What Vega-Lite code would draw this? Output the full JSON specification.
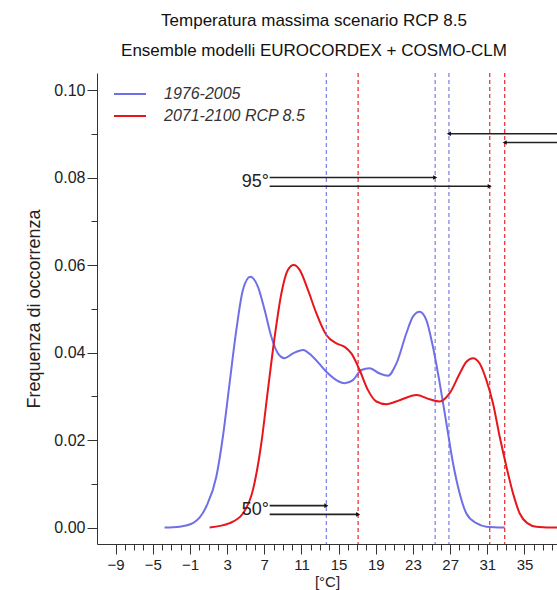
{
  "$schema": "https://vega.github.io/schema/vega-lite/v6.json",
  "width": 460,
  "height": 471,
  "autosize": {"type": "none"},
  "padding": {"left": 97, "top": 73, "right": 0, "bottom": 46},
  "background": "white",
  "title": {
    "text": ["Temperatura massima scenario RCP 8.5", "Ensemble modelli EUROCORDEX + COSMO-CLM"],
    "fontSize": 17,
    "fontWeight": "normal",
    "lineHeight": 30,
    "offset": 12,
    "dx": -13,
    "anchor": "middle",
    "color": "#111"
  },
  "config": {
    "font": "Liberation Sans",
    "view": {"stroke": null},
    "axis": {"grid": false, "domainColor": "#333", "tickColor": "#333", "labelColor": "#222", "titleColor": "#222", "domainWidth": 1, "tickWidth": 1}
  },
  "datasets": {
    "curves": [
      {"series": "1976-2005", "T": -3.73, "freq": 0.0},
      {"series": "1976-2005", "T": -2.11, "freq": 0.0002},
      {"series": "1976-2005", "T": -0.68, "freq": 0.001},
      {"series": "1976-2005", "T": 0.76, "freq": 0.0048},
      {"series": "1976-2005", "T": 1.84, "freq": 0.0116},
      {"series": "1976-2005", "T": 2.55, "freq": 0.0208},
      {"series": "1976-2005", "T": 3.27, "freq": 0.033},
      {"series": "1976-2005", "T": 3.99, "freq": 0.0451},
      {"series": "1976-2005", "T": 4.7, "freq": 0.0543},
      {"series": "1976-2005", "T": 5.5, "freq": 0.0573},
      {"series": "1976-2005", "T": 6.32, "freq": 0.055},
      {"series": "1976-2005", "T": 7.04, "freq": 0.0497},
      {"series": "1976-2005", "T": 7.76, "freq": 0.0436},
      {"series": "1976-2005", "T": 8.47, "freq": 0.0398},
      {"series": "1976-2005", "T": 9.19, "freq": 0.0387},
      {"series": "1976-2005", "T": 10.09, "freq": 0.0398},
      {"series": "1976-2005", "T": 11.16, "freq": 0.0406},
      {"series": "1976-2005", "T": 12.24, "freq": 0.039},
      {"series": "1976-2005", "T": 13.68, "freq": 0.0356},
      {"series": "1976-2005", "T": 14.76, "freq": 0.0337},
      {"series": "1976-2005", "T": 15.65, "freq": 0.033},
      {"series": "1976-2005", "T": 16.54, "freq": 0.0337},
      {"series": "1976-2005", "T": 17.45, "freq": 0.036},
      {"series": "1976-2005", "T": 18.34, "freq": 0.0364},
      {"series": "1976-2005", "T": 19.42, "freq": 0.0352},
      {"series": "1976-2005", "T": 20.31, "freq": 0.0347},
      {"series": "1976-2005", "T": 21.22, "freq": 0.0375},
      {"series": "1976-2005", "T": 22.29, "freq": 0.0444},
      {"series": "1976-2005", "T": 23.0, "freq": 0.0482},
      {"series": "1976-2005", "T": 23.72, "freq": 0.0493},
      {"series": "1976-2005", "T": 24.44, "freq": 0.0474},
      {"series": "1976-2005", "T": 25.15, "freq": 0.0413},
      {"series": "1976-2005", "T": 25.88, "freq": 0.033},
      {"series": "1976-2005", "T": 26.6, "freq": 0.0238},
      {"series": "1976-2005", "T": 27.31, "freq": 0.0147},
      {"series": "1976-2005", "T": 28.03, "freq": 0.0078},
      {"series": "1976-2005", "T": 28.75, "freq": 0.0032},
      {"series": "1976-2005", "T": 29.83, "freq": 0.001},
      {"series": "1976-2005", "T": 30.9, "freq": 0.0002},
      {"series": "1976-2005", "T": 32.87, "freq": 0.0},
      {"series": "2071-2100 RCP 8.5", "T": 1.12, "freq": 0.0},
      {"series": "2071-2100 RCP 8.5", "T": 3.27, "freq": 0.001},
      {"series": "2071-2100 RCP 8.5", "T": 4.7, "freq": 0.0032},
      {"series": "2071-2100 RCP 8.5", "T": 5.78, "freq": 0.0086},
      {"series": "2071-2100 RCP 8.5", "T": 6.68, "freq": 0.0192},
      {"series": "2071-2100 RCP 8.5", "T": 7.39, "freq": 0.0314},
      {"series": "2071-2100 RCP 8.5", "T": 8.12, "freq": 0.0436},
      {"series": "2071-2100 RCP 8.5", "T": 8.84, "freq": 0.0535},
      {"series": "2071-2100 RCP 8.5", "T": 9.55, "freq": 0.0589},
      {"series": "2071-2100 RCP 8.5", "T": 10.16, "freq": 0.06},
      {"series": "2071-2100 RCP 8.5", "T": 10.81, "freq": 0.0589},
      {"series": "2071-2100 RCP 8.5", "T": 11.7, "freq": 0.0543},
      {"series": "2071-2100 RCP 8.5", "T": 12.6, "freq": 0.049},
      {"series": "2071-2100 RCP 8.5", "T": 13.68, "freq": 0.044},
      {"series": "2071-2100 RCP 8.5", "T": 14.76, "freq": 0.0421},
      {"series": "2071-2100 RCP 8.5", "T": 15.65, "freq": 0.0413},
      {"series": "2071-2100 RCP 8.5", "T": 16.37, "freq": 0.0398},
      {"series": "2071-2100 RCP 8.5", "T": 17.26, "freq": 0.036},
      {"series": "2071-2100 RCP 8.5", "T": 18.16, "freq": 0.0314},
      {"series": "2071-2100 RCP 8.5", "T": 19.06, "freq": 0.0288},
      {"series": "2071-2100 RCP 8.5", "T": 20.14, "freq": 0.0282},
      {"series": "2071-2100 RCP 8.5", "T": 21.57, "freq": 0.0291},
      {"series": "2071-2100 RCP 8.5", "T": 23.37, "freq": 0.0303},
      {"series": "2071-2100 RCP 8.5", "T": 24.8, "freq": 0.0293},
      {"series": "2071-2100 RCP 8.5", "T": 25.88, "freq": 0.0288},
      {"series": "2071-2100 RCP 8.5", "T": 26.95, "freq": 0.0307},
      {"series": "2071-2100 RCP 8.5", "T": 28.03, "freq": 0.0352},
      {"series": "2071-2100 RCP 8.5", "T": 28.75, "freq": 0.0379},
      {"series": "2071-2100 RCP 8.5", "T": 29.46, "freq": 0.0387},
      {"series": "2071-2100 RCP 8.5", "T": 30.18, "freq": 0.0375},
      {"series": "2071-2100 RCP 8.5", "T": 30.9, "freq": 0.0337},
      {"series": "2071-2100 RCP 8.5", "T": 31.61, "freq": 0.0284},
      {"series": "2071-2100 RCP 8.5", "T": 32.33, "freq": 0.0208},
      {"series": "2071-2100 RCP 8.5", "T": 33.06, "freq": 0.0139},
      {"series": "2071-2100 RCP 8.5", "T": 33.77, "freq": 0.0078},
      {"series": "2071-2100 RCP 8.5", "T": 34.49, "freq": 0.0032},
      {"series": "2071-2100 RCP 8.5", "T": 35.3, "freq": 0.001},
      {"series": "2071-2100 RCP 8.5", "T": 36.28, "freq": 0.0002},
      {"series": "2071-2100 RCP 8.5", "T": 38.5, "freq": 0.0},
      {"series": "2071-2100 RCP 8.5", "T": 41.0, "freq": 0.0}
    ],
    "percentiles": [
      {"series": "1976-2005", "pct": "50", "T": 13.68, "y": 0.005, "start": 7.58, "dir": "right"},
      {"series": "2071-2100 RCP 8.5", "pct": "50", "T": 17.1, "y": 0.003, "start": 7.58, "dir": "right"},
      {"series": "1976-2005", "pct": "95", "T": 25.39, "y": 0.08, "start": 7.58, "dir": "right"},
      {"series": "2071-2100 RCP 8.5", "pct": "95", "T": 31.26, "y": 0.078, "start": 7.58, "dir": "right"},
      {"series": "1976-2005", "pct": "99", "T": 26.87, "y": 0.09, "start": 45, "dir": "left"},
      {"series": "2071-2100 RCP 8.5", "pct": "99", "T": 32.87, "y": 0.088, "start": 45, "dir": "left"}
    ],
    "labels": [
      {"label": "95°", "T": 7.5, "y": 0.079},
      {"label": "50°", "T": 7.5, "y": 0.004}
    ]
  },
  "resolve": {"axis": {"x": "independent", "y": "independent"}},
  "layer": [
    {
      "data": {"name": "curves"},
      "mark": {"type": "line", "interpolate": "monotone", "strokeWidth": 2, "clip": true},
      "encoding": {
        "x": {"field": "T", "type": "quantitative",
          "scale": {"domain": [-11, 38.5], "nice": false, "zero": false},
          "axis": {"orient": "bottom", "values": [-9, -5, -1, 3, 7, 11, 15, 19, 23, 27, 31, 35], "tickSize": 10, "labelFontSize": 15, "labelPadding": 3, "title": "[°C]", "titleFontSize": 15, "titleFontWeight": "normal", "titlePadding": 2}},
        "y": {"field": "freq", "type": "quantitative",
          "scale": {"domain": [-0.00377, 0.10389], "nice": false, "zero": false},
          "axis": {"orient": "left", "values": [0, 0.02, 0.04, 0.06, 0.08, 0.1], "format": ".2f", "tickSize": 10, "labelFontSize": 16, "labelPadding": 2, "title": "Frequenza di occorrenza", "titleFontSize": 18, "titleFontWeight": "normal", "titlePadding": 10}},
        "color": {"field": "series", "type": "nominal",
          "scale": {"domain": ["1976-2005", "2071-2100 RCP 8.5"], "range": ["#6f6fe8", "#e8161c"]},
          "legend": {"orient": "none", "legendX": 24, "legendY": 12, "title": null, "symbolType": "M-2,0H2", "symbolSize": 256, "symbolStrokeWidth": 2, "labelFontSize": 16, "labelFontStyle": "italic", "labelColor": "#333", "rowPadding": 5, "labelOffset": 25, "padding": 0}}
      }
    },
    {
      "data": {"name": "percentiles"},
      "mark": {"type": "rule", "strokeDash": [4, 3], "strokeWidth": 1.3, "opacity": 0.85},
      "encoding": {
        "x": {"field": "T", "type": "quantitative",
          "scale": {"domain": [-11, 38.5], "nice": false, "zero": false},
          "axis": {"orient": "bottom", "values": [-8, -7, -6, -4, -3, -2, 0, 1, 2, 4, 5, 6, 8, 9, 10, 12, 13, 14, 16, 17, 18, 20, 21, 22, 24, 25, 26, 28, 29, 30, 32, 33, 34, 36, 37, 38], "tickSize": 6, "labels": false, "domain": false, "title": null}},
        "color": {"field": "series", "type": "nominal", "legend": null}
      }
    },
    {
      "data": {"name": "percentiles"},
      "mark": {"type": "rule", "color": "#222", "strokeWidth": 1.6, "clip": true},
      "encoding": {
        "x": {"field": "start", "type": "quantitative",
          "scale": {"domain": [-11, 38.5], "nice": false, "zero": false},
          "axis": null},
        "x2": {"field": "T"},
        "y": {"field": "y", "type": "quantitative",
          "scale": {"domain": [-0.00377, 0.10389], "nice": false, "zero": false},
          "axis": {"orient": "left", "values": [0.01, 0.03, 0.05, 0.07, 0.09], "tickSize": 6, "labels": false, "domain": false, "title": null}}
      }
    },
    {
      "data": {"name": "percentiles"},
      "mark": {"type": "point", "filled": true, "color": "#111", "size": 22, "opacity": 1},
      "encoding": {
        "x": {"field": "T", "type": "quantitative", "scale": {"domain": [-11, 38.5], "nice": false, "zero": false}, "axis": null},
        "y": {"field": "y", "type": "quantitative", "scale": {"domain": [-0.00377, 0.10389], "nice": false, "zero": false}, "axis": null},
        "shape": {"field": "dir", "type": "nominal", "scale": {"domain": ["right", "left"], "range": ["triangle-right", "triangle-left"]}, "legend": null}
      }
    },
    {
      "data": {"name": "labels"},
      "mark": {"type": "text", "align": "right", "baseline": "middle", "fontSize": 18, "color": "#222"},
      "encoding": {
        "x": {"field": "T", "type": "quantitative", "scale": {"domain": [-11, 38.5], "nice": false, "zero": false}, "axis": null},
        "y": {"field": "y", "type": "quantitative", "scale": {"domain": [-0.00377, 0.10389], "nice": false, "zero": false}, "axis": null},
        "text": {"field": "label"}
      }
    },
    {
      "mark": {"type": "rule", "color": "#333", "strokeWidth": 1},
      "encoding": {
        "y": {"datum": 0.10389, "type": "quantitative", "scale": {"domain": [-0.00377, 0.10389], "nice": false, "zero": false}, "axis": null}
      }
    }
  ]
}
